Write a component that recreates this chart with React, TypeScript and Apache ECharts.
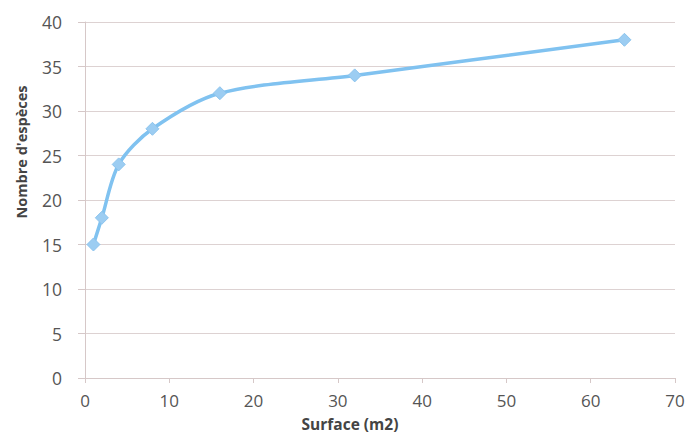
import React, { useEffect, useRef } from "react";
import * as echarts from "echarts";

// Surface sampled (m2) and number of species found
const surfaces = [1, 2, 4, 8, 16, 32, 64];
const speciesCounts = [15, 18, 24, 28, 32, 34, 38];

const xTitle = "Surface (m2)";
const yTitle = "Nombre d'espèces";

export default function App() {
  const ref = useRef<HTMLDivElement>(null);

  useEffect(() => {
    if (!ref.current) return;
    const chart = echarts.init(ref.current, undefined, { renderer: "svg" });
    const font = "'Open Sans', 'Liberation Sans', sans-serif";
    const axisLine = { show: true, lineStyle: { color: "#d6c8c8", width: 1 } };
    const gridColor = "#ddd2d2";
    chart.setOption({
      animation: false,
      backgroundColor: "#ffffff",
      grid: { left: 85, right: 13, top: 22, bottom: 58 },
      graphic: [
        {
          type: "text",
          x: 350,
          y: 424,
          style: {
            text: xTitle,
            fontFamily: font,
            fontSize: 15.5,
            lineHeight: 16,
            fontWeight: "bold",
            fill: "#444",
            textAlign: "center",
            textVerticalAlign: "middle",
          },
        },
        {
          type: "text",
          x: 21,
          y: 152,
          rotation: Math.PI / 2,
          style: {
            text: yTitle,
            fontFamily: font,
            fontSize: 14.5,
            fontWeight: "bold",
            fill: "#444",
            textAlign: "center",
            textVerticalAlign: "middle",
          },
        },
      ],
      xAxis: {
        type: "value",
        min: 0,
        max: 70,
        interval: 10,
        axisLine,
        axisTick: { show: true, length: 5, lineStyle: { color: "#d6c8c8" } },
        splitLine: { show: false },
        axisLabel: { fontFamily: font, fontSize: 17, lineHeight: 17, color: "#555", margin: 14 },
      },
      yAxis: {
        type: "value",
        min: 0,
        max: 40,
        interval: 5,
        axisLine,
        axisTick: { show: true, length: 7, lineStyle: { color: "#d6c8c8" } },
        splitLine: { show: true, lineStyle: { color: gridColor, width: 1 } },
        axisLabel: { fontFamily: font, fontSize: 17.5, color: "#555", margin: 23 },
      },
      series: [
        {
          type: "line",
          data: surfaces.map((s, i) => [s, speciesCounts[i]]),
          smooth: 0.3,
          symbol: "diamond",
          symbolSize: 13,
          lineStyle: { color: "#80c2f0", width: 3.5 },
          itemStyle: { color: "#9ccdf2", borderColor: "#8cc4ee", borderWidth: 1 },
        },
      ],
    });
    return () => chart.dispose();
  }, []);

  return <div ref={ref} style={{ width: 688, height: 436, position: "absolute", left: 0, top: 0 }} />;
}
